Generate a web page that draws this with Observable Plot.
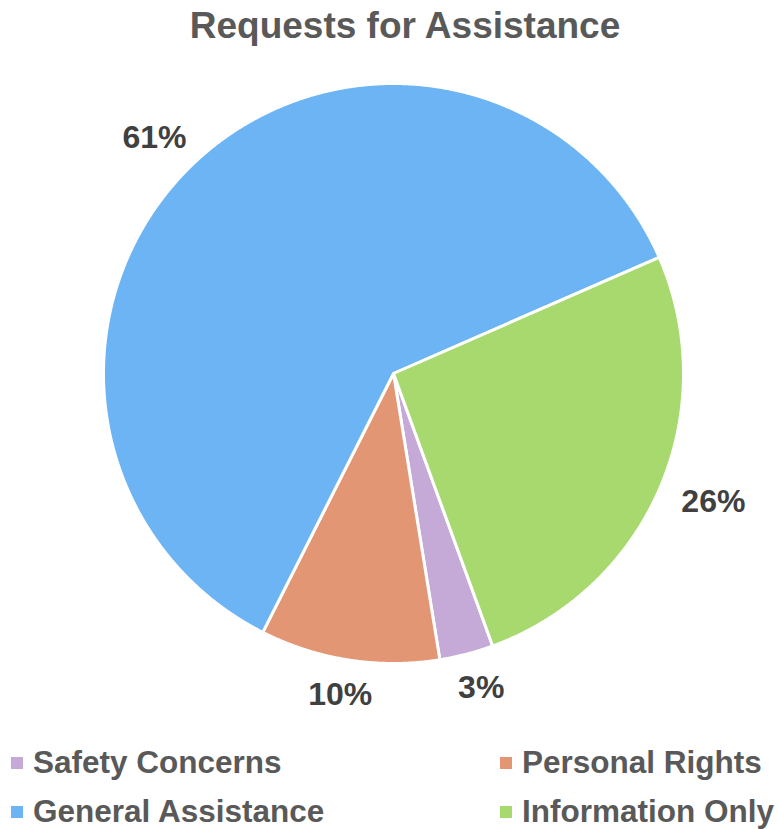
<!DOCTYPE html>
<html>
<head>
<meta charset="utf-8">
<script src="https://cdn.jsdelivr.net/npm/d3@7"></script>
<script src="https://cdn.jsdelivr.net/npm/@observablehq/plot@0.6"></script>
<style>
  html, body { margin: 0; padding: 0; background: #fff; }
  #wrap { position: relative; width: 778px; height: 829px; overflow: hidden; font-family: "Liberation Sans", Arial, sans-serif; }
  #title { position: absolute; top: 7px; left: 405px; transform: translateX(-50%); white-space: nowrap;
           font-size: 37px; line-height: 37px; font-weight: bold; color: #595959; }
  #chart { position: absolute; top: 60px; left: 0; }
  .leg { position: absolute; display: flex; align-items: center; white-space: nowrap;
         font-size: 31.5px; line-height: 31px; font-weight: bold; color: #595959; }
  .sw { width: 12px; height: 12px; margin-right: 10px; flex: none; }
</style>
</head>
<body>
<div id="wrap">
  <div id="title">Requests for Assistance</div>
  <div id="chart"></div>
  <div id="legend"></div>
</div>
<script>
// ---- data ----
const categories = ["Safety Concerns", "Personal Rights", "General Assistance", "Information Only"];
const values = [3, 10, 61, 26];
const labels = ["3%", "10%", "61%", "26%"];
const colors = ["#C5A9D6", "#E29673", "#6CB4F3", "#A7D96E"];
const firstSliceAngle = 160; // degrees, clockwise from 12 o'clock

// ---- layout ----
const W = 778, H = 680, CX = 393, CY = 313, R = 290;
const LABEL_FONT = 32;
const LABEL_RX = 348, LABEL_RY = 325; // label placement radii (px) outside the pie

const start = firstSliceAngle * Math.PI / 180;
const arcs = d3.pie().sort(null).value(d => d).startAngle(start).endAngle(start + 2 * Math.PI)(values);

// polygon points for each slice (unit circle, data space)
const points = [];
arcs.forEach((a, i) => {
  const cat = categories[i];
  points.push({cat, x: 0, y: 0});
  const n = Math.max(2, Math.ceil((a.endAngle - a.startAngle) / 0.004));
  for (let k = 0; k <= n; k++) {
    const t = a.startAngle + (a.endAngle - a.startAngle) * k / n;
    points.push({cat, x: Math.sin(t), y: Math.cos(t)});
  }
});

// label positions: outside end of each slice, at its mid-angle
const labelData = arcs.map((a, i) => {
  const m = (a.startAngle + a.endAngle) / 2;
  return {x: Math.sin(m) * LABEL_RX / R, y: Math.cos(m) * LABEL_RY / R, text: labels[i]};
});

const chart = Plot.plot({
  width: W,
  height: H,
  margin: 0,
  x: {domain: [-CX / R, (W - CX) / R], range: [0, W], axis: null},
  y: {domain: [-(H - CY) / R, CY / R], range: [H, 0], axis: null},
  color: {domain: categories, range: colors},
  style: {background: "white", fontFamily: "'Liberation Sans', Arial, sans-serif"},
  marks: [
    Plot.line(points, {x: "x", y: "y", z: "cat", fill: "cat", stroke: "white", strokeWidth: 3,
                       curve: "linear-closed", strokeLinejoin: "round"}),
    Plot.text(labelData, {x: "x", y: "y", text: "text", fontSize: LABEL_FONT, fontWeight: "bold",
                          fill: "#404040", textAnchor: "middle"})
  ]
});
document.getElementById("chart").appendChild(chart);

// ---- legend (HTML, below the SVG) ----
const legPos = [
  {left: 11, top: 747}, {left: 500, top: 747},
  {left: 11, top: 796}, {left: 500, top: 796}
];
const leg = document.getElementById("legend");
categories.forEach((c, i) => {
  const d = document.createElement("div");
  d.className = "leg";
  d.style.left = legPos[i].left + "px";
  d.style.top = legPos[i].top + "px";
  const sw = document.createElement("span");
  sw.className = "sw";
  sw.style.background = colors[i];
  const t = document.createElement("span");
  t.textContent = c;
  d.appendChild(sw);
  d.appendChild(t);
  leg.appendChild(d);
});
</script>
</body>
</html>
